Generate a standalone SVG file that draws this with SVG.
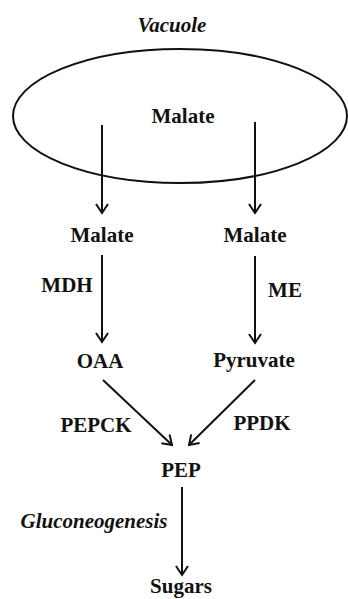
<svg xmlns="http://www.w3.org/2000/svg" width="348" height="599" viewBox="0 0 348 599">
<defs>
<marker id="ah" markerWidth="14" markerHeight="14" refX="10" refY="7" orient="auto" markerUnits="userSpaceOnUse">
<polyline points="1,1 10,7 1,13" fill="none" stroke="#111" stroke-width="2"/>
</marker>
<style>
.t{font-family:"Liberation Serif","Times New Roman",serif;font-weight:bold;font-size:21px;fill:#111;text-anchor:middle}
.i{font-style:italic}
.c{stroke:#111;stroke-width:2;fill:none;marker-end:url(#ah)}
</style>
</defs>
<rect width="348" height="599" fill="#fff"/>
<g id="vacuole">
<ellipse cx="180" cy="116" rx="167" ry="67" fill="none" stroke="#111" stroke-width="2"/>
<text class="t i" x="172" y="32">Vacuole</text>
<text class="t" x="183" y="123">Malate</text>
</g>
<g id="malate-left"><text class="t" x="102" y="242">Malate</text></g>
<g id="malate-right"><text class="t" x="255" y="242">Malate</text></g>
<g id="oaa"><text class="t" x="100" y="368">OAA</text></g>
<g id="pyruvate"><text class="t" x="254" y="367">Pyruvate</text></g>
<g id="pep"><text class="t" x="181" y="477">PEP</text></g>
<g id="sugars"><text class="t" x="181" y="593">Sugars</text></g>
<g id="labels">
<text class="t" x="67" y="292">MDH</text>
<text class="t" x="285" y="297">ME</text>
<text class="t" x="96" y="432">PEPCK</text>
<text class="t" x="262" y="430">PPDK</text>
<text class="t i" x="94" y="528">Gluconeogenesis</text>
</g>
<g id="connectors">
<line class="c" x1="102" y1="125" x2="102" y2="213"/>
<line class="c" x1="255" y1="122" x2="255" y2="213"/>
<line class="c" x1="102" y1="255" x2="102" y2="342"/>
<line class="c" x1="255" y1="256" x2="255" y2="343"/>
<line class="c" x1="103" y1="380" x2="172" y2="445"/>
<line class="c" x1="255" y1="380" x2="189" y2="445"/>
<line class="c" x1="182" y1="487" x2="182" y2="575"/>
</g>
</svg>
